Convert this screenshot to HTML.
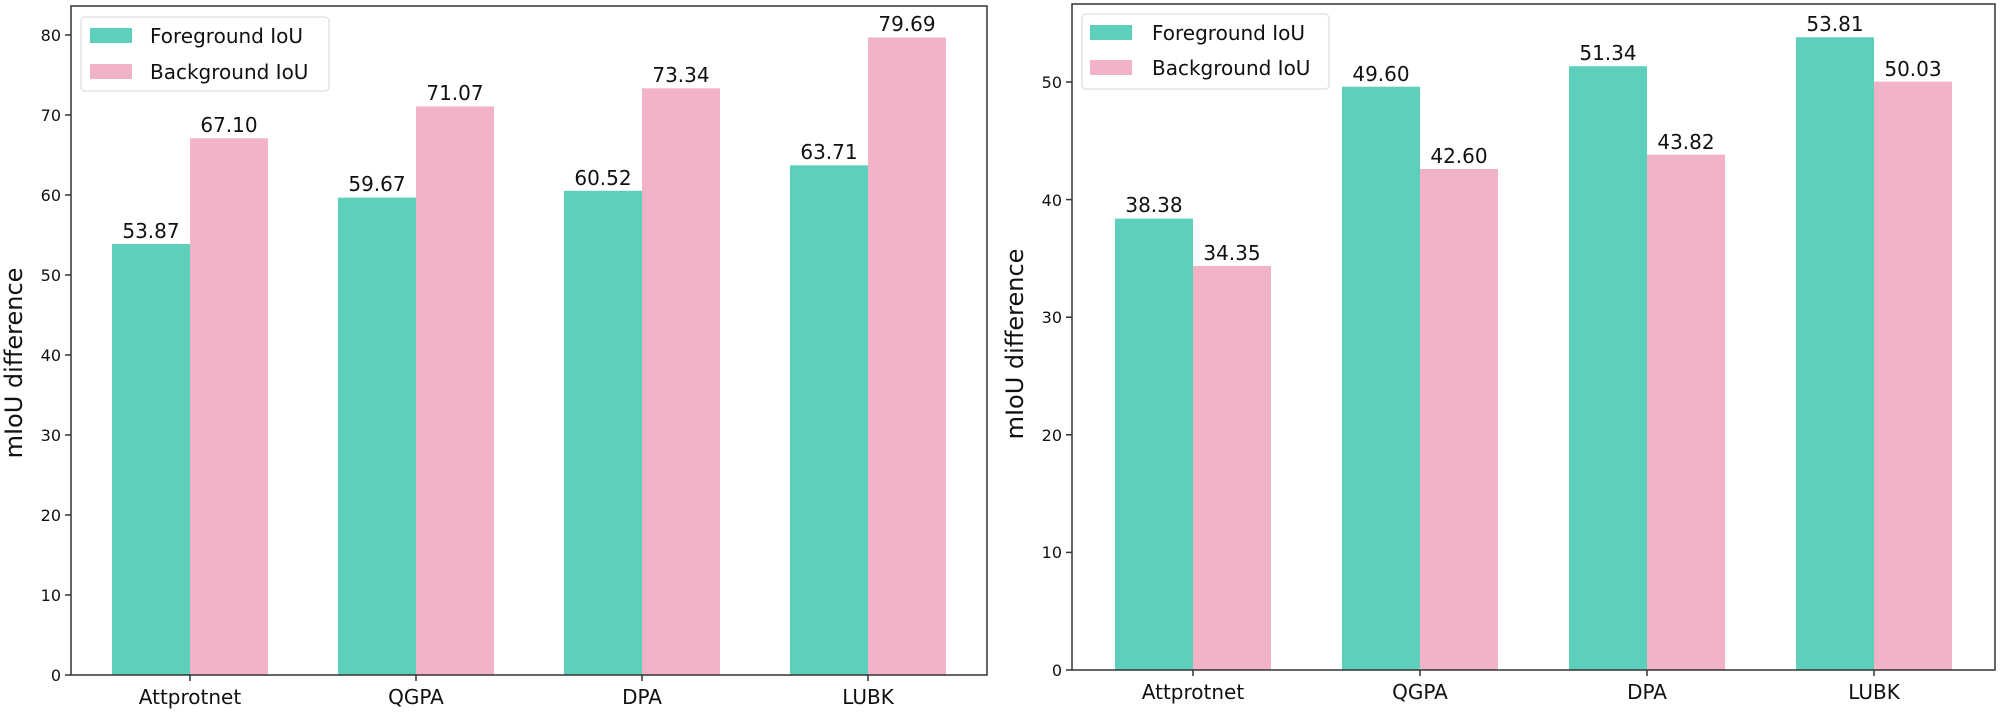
<!DOCTYPE html>
<html><head><meta charset="utf-8"><style>html,body{margin:0;padding:0;background:#fff}svg{display:block}text{font-family:"DejaVu Sans","Liberation Sans",sans-serif;fill:#111}</style></head>
<body>
<svg width="2000" height="713" viewBox="0 0 2000 713" xmlns="http://www.w3.org/2000/svg">
<!-- LEFT -->
<g>
<g fill="#5dd0bc">
<rect x="112" y="244.0" width="78" height="431"/>
<rect x="338" y="197.6" width="78" height="477.4"/>
<rect x="564" y="190.8" width="78" height="484.2"/>
<rect x="790" y="165.3" width="78" height="509.7"/>
</g>
<g fill="#f2b3c7">
<rect x="190" y="138.2" width="78" height="536.8"/>
<rect x="416" y="106.4" width="78" height="568.6"/>
<rect x="642" y="88.3" width="78" height="586.7"/>
<rect x="868" y="37.5" width="78" height="637.5"/>
</g>
<g font-size="20" text-anchor="middle">
<text x="151" y="238">53.87</text><text x="229" y="132">67.10</text>
<text x="377" y="191">59.67</text><text x="455" y="100">71.07</text>
<text x="603" y="185">60.52</text><text x="681" y="82">73.34</text>
<text x="829" y="159">63.71</text><text x="907" y="31">79.69</text>
</g>
<rect x="71" y="6" width="916" height="669" fill="none" stroke="#333" stroke-width="1.5"/>
<g stroke="#333" stroke-width="1.5">
<line x1="65" x2="71" y1="675" y2="675"/><line x1="65" x2="71" y1="595" y2="595"/><line x1="65" x2="71" y1="515" y2="515"/><line x1="65" x2="71" y1="435" y2="435"/><line x1="65" x2="71" y1="355" y2="355"/><line x1="65" x2="71" y1="275" y2="275"/><line x1="65" x2="71" y1="195" y2="195"/><line x1="65" x2="71" y1="115" y2="115"/><line x1="65" x2="71" y1="35" y2="35"/>
<line x1="190" x2="190" y1="675" y2="681"/><line x1="416" x2="416" y1="675" y2="681"/><line x1="642" x2="642" y1="675" y2="681"/><line x1="868" x2="868" y1="675" y2="681"/>
</g>
<g font-size="16" text-anchor="end">
<text x="61" y="681">0</text><text x="61" y="601">10</text><text x="61" y="521">20</text><text x="61" y="441">30</text><text x="61" y="361">40</text><text x="61" y="281">50</text><text x="61" y="201">60</text><text x="61" y="121">70</text><text x="61" y="41">80</text>
</g>
<g font-size="20" text-anchor="middle">
<text x="190" y="704">Attprotnet</text><text x="416" y="704">QGPA</text><text x="642" y="704">DPA</text><text x="868" y="704">LUBK</text>
</g>
<text font-size="24" text-anchor="middle" transform="translate(22,363) rotate(-90)">mIoU difference</text>
<rect x="81" y="17" width="248" height="74" rx="4" fill="#fff" fill-opacity="0.85" stroke="#ddd" stroke-width="1.2"/>
<rect x="90" y="28" width="42" height="15" fill="#5dd0bc"/>
<rect x="90" y="64" width="42" height="15" fill="#f2b3c7"/>
<text x="150" y="43" font-size="20">Foreground IoU</text>
<text x="150" y="79" font-size="20">Background IoU</text>
</g>
<!-- RIGHT -->
<g>
<g fill="#5dd0bc">
<rect x="1115" y="218.6" width="78" height="451.4"/>
<rect x="1342" y="86.7" width="78" height="583.3"/>
<rect x="1569" y="66.2" width="78" height="603.8"/>
<rect x="1796" y="37.2" width="78" height="632.8"/>
</g>
<g fill="#f2b3c7">
<rect x="1193" y="266.0" width="78" height="404"/>
<rect x="1420" y="169.0" width="78" height="501"/>
<rect x="1647" y="154.7" width="78" height="515.3"/>
<rect x="1874" y="81.6" width="78" height="588.4"/>
</g>
<g font-size="20" text-anchor="middle">
<text x="1154" y="212">38.38</text><text x="1232" y="260">34.35</text>
<text x="1381" y="81">49.60</text><text x="1459" y="163">42.60</text>
<text x="1608" y="60">51.34</text><text x="1686" y="149">43.82</text>
<text x="1835" y="31">53.81</text><text x="1913" y="76">50.03</text>
</g>
<rect x="1072" y="4" width="923" height="666" fill="none" stroke="#333" stroke-width="1.5"/>
<g stroke="#333" stroke-width="1.5">
<line x1="1066" x2="1072" y1="670" y2="670"/><line x1="1066" x2="1072" y1="552.4" y2="552.4"/><line x1="1066" x2="1072" y1="434.8" y2="434.8"/><line x1="1066" x2="1072" y1="317.2" y2="317.2"/><line x1="1066" x2="1072" y1="199.6" y2="199.6"/><line x1="1066" x2="1072" y1="82" y2="82"/>
<line x1="1193" x2="1193" y1="670" y2="676"/><line x1="1420" x2="1420" y1="670" y2="676"/><line x1="1647" x2="1647" y1="670" y2="676"/><line x1="1874" x2="1874" y1="670" y2="676"/>
</g>
<g font-size="16" text-anchor="end">
<text x="1062" y="676">0</text><text x="1062" y="558">10</text><text x="1062" y="441">20</text><text x="1062" y="323">30</text><text x="1062" y="206">40</text><text x="1062" y="88">50</text>
</g>
<g font-size="20" text-anchor="middle">
<text x="1193" y="699">Attprotnet</text><text x="1420" y="699">QGPA</text><text x="1647" y="699">DPA</text><text x="1874" y="699">LUBK</text>
</g>
<text font-size="24" text-anchor="middle" transform="translate(1023,344) rotate(-90)">mIoU difference</text>
<rect x="1082" y="14" width="247" height="75" rx="4" fill="#fff" fill-opacity="0.85" stroke="#ddd" stroke-width="1.2"/>
<rect x="1090" y="25" width="42" height="15" fill="#5dd0bc"/>
<rect x="1090" y="60" width="42" height="15" fill="#f2b3c7"/>
<text x="1152" y="40" font-size="20">Foreground IoU</text>
<text x="1152" y="75" font-size="20">Background IoU</text>
</g>
</svg>
</body></html>
